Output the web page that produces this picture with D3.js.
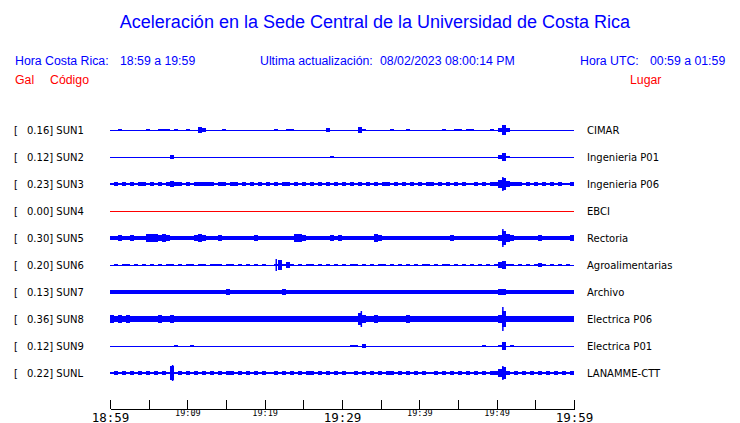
<!DOCTYPE html>
<html><head><meta charset="utf-8">
<script src="https://cdn.jsdelivr.net/npm/d3@7"></script>
<style>body{margin:0;background:#fff} svg{display:block}</style>
</head><body><svg id="c" width="740" height="423"></svg>
<script>
// ---------------- data ----------------
const stations = ["SUN1","SUN2","SUN3","SUN4","SUN5","SUN6","SUN7","SUN8","SUN9","SUNL"];
const places = ["CIMAR","Ingenieria P01","Ingenieria P06","EBCI","Rectoria","Agroalimentarias","Archivo","Electrica P06","Electrica P01","LANAMME-CTT"];
const maxGal = [0.16,0.12,0.23,0.00,0.30,0.20,0.13,0.36,0.12,0.22];
// envelope half-amplitude per time bin (116 bins over 60 min)
const bands = [
 "0010000001 0011101001 0032000010 0000000000 0100110000 0000200000 0031000000 1000100000 0001001101 1000010252 0000000000 000000",
 "0000000000 0000020000 0000000000 0000000000 0000000000 0000010000 0000000000 0000000000 0000000000 0000000241 0000000000 000000",
 "1212121221 2121232212 1222221221 2212121212 1212212121 2121212121 2121212122 1212121212 2121212121 1212122463 2221212121 212112",
 "0000000000 0000000000 0000000000 0000000000 0000000000 0000000000 0000000000 0000000000 0000000000 0000000000 0000000000 000000",
 "2232232224 4434322222 2343222322 2222223222 2222224432 2222232322 2222224322 2222222222 2222232222 2222222374 3222222322 222223",
 "0101101010 1010110101 1011011101 1010101010 0151310101 1010101010 1101010110 1010101011 0101101010 1010101341 1010101210 101010",
 "2222222222 2222222222 2222222223 2222222222 2223222222 2222222222 2222222222 2222222222 2222222222 2222222332 2222222222 222222",
 "4343433333 3343343333 3333333333 3333333333 3333333333 3333333333 3364334333 3333433333 3333333333 3333333483 3333333333 333333",
 "0000000000 0000001000 1000000000 0000000000 0000000000 0000000000 1102000000 0000000000 0000000000 0001000140 1000000000 000000",
 "1212121212 1212171212 1212121212 2121212121 1212121212 2121212121 1212121212 2121212121 1212121212 1212122462 1212121212 121212"
];
// tall isolated peaks: [station, minute after 18:59, half-amplitude]
const spikes = [["SUN8",50.8,12],["SUN5",50.8,9],["SUNL",8.1,8],["SUNL",50.8,7],["SUN6",21.5,6],["SUN3",50.8,7],["SUN1",50.8,5],["SUN8",32.5,8]];
const tickMinutes = [0,5,10,15,20,25,30,35,40,45,50,55,60];
const tickLabels = {0:"18:59",10:"19:09",20:"19:19",30:"19:29",40:"19:39",50:"19:49",60:"19:59"};
const bigTicks = [0,30,60];

// ---------------- drawing ----------------
const BLUE = "#0000ff", RED = "#ff0000";
const svg = d3.select("#c");
const t0 = new Date(2023,1,8,18,59);
const xt = d3.scaleTime().domain([t0, d3.timeMinute.offset(t0,60)]).range([110,574]);
const xm = d3.scaleLinear().domain([0,60]).range([110,574]);
const y = d3.scalePoint().domain(stations).range([130,373]);
const amp = d3.scaleLinear().domain([0,10]).range([0,10]);

const sans = "'Liberation Sans', Arial, sans-serif";
const dj = "'DejaVu Sans', sans-serif";

svg.append("text").attr("x",375).attr("y",28).attr("text-anchor","middle")
  .attr("font-family",sans).attr("font-size",18).attr("fill",BLUE)
  .text("Aceleración en la Sede Central de la Universidad de Costa Rica");

const hdr = [
  [15,65,"Hora Costa Rica:",BLUE],[120,65,"18:59 a 19:59",BLUE],
  [260,65,"Ultima actualización:",BLUE],[380,65,"08/02/2023 08:00:14 PM",BLUE],
  [580,65,"Hora UTC:",BLUE],[650,65,"00:59 a 01:59",BLUE],
  [15,84,"Gal",RED],[50,84,"Código",RED],[630,84,"Lugar",RED]
];
svg.selectAll("text.hdr").data(hdr).join("text").attr("class","hdr")
  .attr("x",d=>d[0]).attr("y",d=>d[1]).attr("fill",d=>d[3])
  .attr("font-family",sans).attr("font-size",12.3)
  .text(d=>d[2]);

const rows = svg.selectAll("g.row").data(stations).join("g").attr("class","row")
  .attr("transform",d=>`translate(0,${y(d)})`);

rows.append("text").attr("x",14).attr("y",4).attr("font-family",dj).attr("font-size",10).attr("fill","#000").text("[");
rows.append("text").attr("x",27).attr("y",4).attr("font-family",dj).attr("font-size",10).attr("fill","#000")
  .text((d,i)=>`${maxGal[i].toFixed(2)}] ${d}`);
rows.append("text").attr("x",587).attr("y",4).attr("font-family",dj).attr("font-size",10).attr("fill","#000")
  .text((d,i)=>places[i]);

rows.append("line").attr("x1",xm(0)).attr("x2",xm(60)).attr("y1",0).attr("y2",0)
  .attr("stroke",(d,i)=>maxGal[i]===0?RED:BLUE).attr("stroke-width",1).attr("shape-rendering","crispEdges");

rows.each(function(d,i){
  const vals = bands[i].replace(/ /g,"").split("").map(Number);
  const n = vals.length, bw = 60/n;
  d3.select(this).selectAll("rect").data(vals.map((v,k)=>({v,k})).filter(e=>e.v>0)).join("rect")
    .attr("x",e=>xm(e.k*bw)).attr("width",e=>xm((e.k+1)*bw)-xm(e.k*bw))
    .attr("y",e=>-amp(e.v)).attr("height",e=>2*amp(e.v)).attr("fill",BLUE)
    .attr("shape-rendering","crispEdges");
  d3.select(this).selectAll("line.sp").data(spikes.filter(s=>s[0]===d)).join("line").attr("class","sp")
    .attr("x1",s=>xm(s[1])).attr("x2",s=>xm(s[1])).attr("y1",s=>-amp(s[2])).attr("y2",s=>amp(s[2]))
    .attr("stroke",BLUE).attr("stroke-width",1.5);
});

const axis = d3.axisBottom(xt).tickValues(tickMinutes.map(m=>d3.timeMinute.offset(t0,m)))
  .tickSizeInner(-9).tickSizeOuter(0).tickFormat((dt,i)=>tickLabels[tickMinutes[i]]||"");
const ag = svg.append("g").attr("transform","translate(0,409)").call(axis);
ag.select(".domain").attr("stroke","#000").attr("shape-rendering","crispEdges");
ag.selectAll(".tick line").attr("stroke","#000").attr("shape-rendering","crispEdges");
ag.selectAll(".tick text").attr("font-family","'DejaVu Sans Mono', monospace").attr("fill","#000")
  .attr("dy",0)
  .attr("font-size",(dt,i)=>bigTicks.includes(tickMinutes[i])?12.5:8.5)
  .attr("y",(dt,i)=>bigTicks.includes(tickMinutes[i])?12.5:7);
</script></body></html>
